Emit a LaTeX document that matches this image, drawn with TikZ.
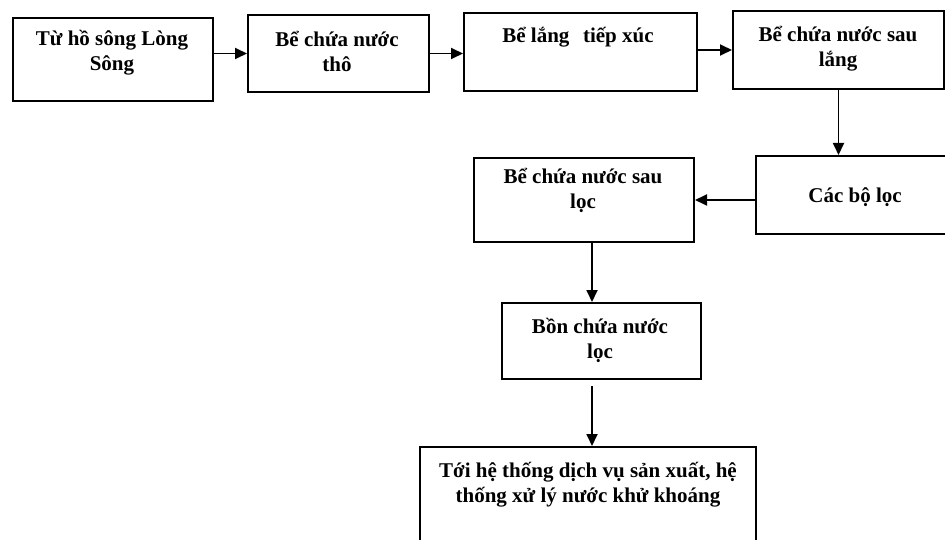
\documentclass[tikz,border=0pt]{standalone}
\usepackage{fontspec}
\setmainfont{Liberation Serif}
\usetikzlibrary{arrows.meta,calc}
\tikzset{
  box/.style={draw=black, line width=2pt, rectangle, inner sep=0pt, anchor=north west},
  txt/.style={inner sep=0pt, anchor=base, font=\fontsize{21}{25}\selectfont\bfseries},
  flow/.style={draw=black, line width=1.8pt, -{Triangle[length=12pt,width=11pt]}}
}
\newcommand{\lines}[1]{\setlength\tabcolsep{0pt}\begin{tabular}[t]{c}#1\end{tabular}}
\begin{document}
\begin{tikzpicture}[x=1pt,y=-1pt]
\useasboundingbox (0,0) rectangle (945,540);
\fill[white] (0,0) rectangle (945,540);
\clip (0,0) rectangle (945,540);
% boxes
\node[box, minimum width=200pt, minimum height=83pt] (B1) at (12,17) {};
\node[box, minimum width=181pt, minimum height=77pt] (B2) at (247,14) {};
\node[box, minimum width=233pt, minimum height=78pt] (B3) at (463,12) {};
\node[box, minimum width=211pt, minimum height=78pt] (B4) at (732,10) {};
\node[box, minimum width=205pt, minimum height=78pt] (B5) at (755,155) {};
\node[box, minimum width=220pt, minimum height=84pt] (B6) at (473,157) {};
\node[box, minimum width=199pt, minimum height=76pt] (B7) at (501,302) {};
\node[box, minimum width=336pt, minimum height=120pt] (B8) at (419,446) {};
% texts
\node[txt] (T1) at (112,46) {\lines{Từ hồ sông Lòng\\Sông}};
\node[txt] (T2) at (337,47) {\lines{Bể chứa nước\\thô}};
\node[txt] (T3) at (578,43) {Bể lắng\hspace{0.4em} tiếp xúc};
\node[txt] (T4) at (838,42) {\lines{Bể chứa nước sau\\lắng}};
\node[txt] (T5) at (855,203) {Các bộ lọc};
\node[txt] (T6) at (583,184) {\lines{Bể chứa nước sau\\lọc}};
\node[txt] (T7) at (600,333) {\lines{Bồn chứa nước\\lọc}};
\node[txt] (T8) at (588,477) {\lines{Tới hệ thống dịch vụ sản xuất, hệ\\thống xử lý nước khử khoáng}};
% connectors
\draw[flow] (B1.east |- B2.west) -- (B2.west);
\draw[flow] (B2.east) -- (B2.east -| B3.west);
\draw[flow] (B3.east |- B4.west) -- (B4.west);
\draw[flow] (B4.south) -- (B4.south |- B5.north);
\draw[flow] (B5.west |- B6.east) -- (B6.east);
\draw[flow] ([xshift=8pt]B6.south) -- ([xshift=8pt]B6.south |- B7.north);
\draw[flow, shorten <=6pt] ([xshift=-9.5pt]B7.south) -- ([xshift=-9.5pt]B7.south |- B8.north);
\end{tikzpicture}
\end{document}
